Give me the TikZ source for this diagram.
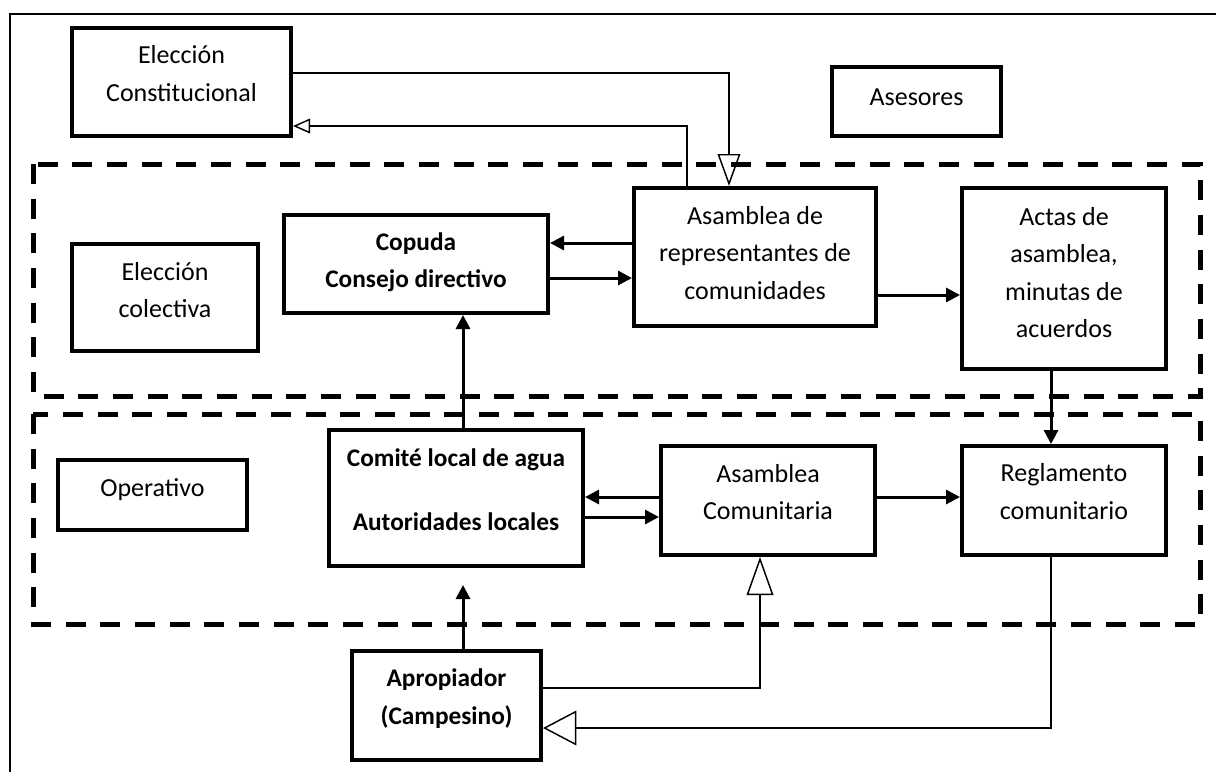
\documentclass[tikz,border=0pt]{standalone}
\usepackage{fontspec}
\setmainfont{Carlito}
\usetikzlibrary{arrows.meta,calc}
\begin{document}
\begin{tikzpicture}[x=0.75pt,y=-0.75pt,
  box/.style={draw, line width=3pt, inner sep=0pt},
  txt/.style={align=center, inner sep=0pt, font=\fontsize{19.5pt}{28pt}\selectfont},
  btxt/.style={txt, font=\fontsize{19pt}{28pt}\selectfont\bfseries},
  region/.style={draw, line width=3.75pt, dash pattern=on 15pt off 11pt},
  fa/.style={line width=2.25pt, -{Triangle[length=10.5pt,width=10.5pt]}},
]
\useasboundingbox (0,0) rectangle (1216,772);
% outer frame (only left and top visible)
\draw[line width=1.5pt] (10,772) -- (10,14) -- (1216,14);
% dashed regions
\draw[region] (33,164) rectangle (1200,396);
\draw[region] (33,414) rectangle (1200,624);

% helper coordinates
\coordinate (y73) at (0,73);
\coordinate (y126) at (0,126);
\coordinate (y243) at (0,243);
\coordinate (y278) at (0,278);
\coordinate (y295) at (0,295);
\coordinate (y497) at (0,497);
\coordinate (y517) at (0,517);
\coordinate (y688) at (0,688);
\coordinate (y728) at (0,728);
\coordinate (x729) at (729,0);
\coordinate (x687) at (687,0);
\coordinate (x1051) at (1051,0);
\coordinate (xv) at (463,0);
\coordinate (x760) at (760,0);

% boxes
\node[box, minimum width=219*0.75pt, minimum height=108*0.75pt,
  label={[txt, yshift=8.5*0.75pt]center:Elección\\Constitucional}] (ec) at (181.5,82) {};
\node[box, minimum width=169*0.75pt, minimum height=69*0.75pt,
  label={[txt, yshift=4*0.75pt]center:Asesores}] (as) at (916.5,101.5) {};
\node[box, minimum width=186*0.75pt, minimum height=107*0.75pt,
  label={[txt, yshift=7.5*0.75pt]center:Elección\\colectiva}] (ecol) at (165,297.5) {};
\node[box, minimum width=264*0.75pt, minimum height=98*0.75pt,
  label={[btxt, yshift=2*0.75pt]center:Copuda\\Consejo directivo}] (cop) at (416,264) {};
\node[box, minimum width=242*0.75pt, minimum height=138*0.75pt,
  label={[txt, yshift=4*0.75pt]center:Asamblea de\\representantes de\\comunidades}] (arep) at (755,257) {};
\node[box, minimum width=204*0.75pt, minimum height=181*0.75pt,
  label={[txt, yshift=6*0.75pt]center:Actas de\\asamblea,\\minutas de\\acuerdos}] (act) at (1064,278.5) {};
\node[box, minimum width=189*0.75pt, minimum height=70*0.75pt,
  label={[txt, yshift=5*0.75pt]center:Operativo}] (op) at (152.5,495) {};
\node[box, minimum width=254*0.75pt, minimum height=136*0.75pt,
  label={[btxt, yshift=8.5*0.75pt]center:Comité local de agua\\[20pt]Autoridades locales}] (com) at (456,498) {};
\node[box, minimum width=214*0.75pt, minimum height=109*0.75pt,
  label={[txt, yshift=8.5*0.75pt]center:Asamblea\\Comunitaria}] (acom) at (768,500.5) {};
\node[box, minimum width=204*0.75pt, minimum height=109*0.75pt,
  label={[txt, yshift=9*0.75pt]center:Reglamento\\comunitario}] (reg) at (1064,500.5) {};
\node[box, minimum width=189*0.75pt, minimum height=109*0.75pt,
  label={[btxt, yshift=7*0.75pt]center:Apropiador\\(Campesino)}] (apr) at (446.5,705.5) {};

% connectors
\draw[line width=1.1pt, -{Triangle[open,length=24pt,width=17pt]}]
  (ec.east |- y73) -| (arep.north -| x729);
\draw[line width=1.1pt, -{Triangle[open,length=12.75pt,width=11pt]}]
  (arep.north -| x687) |- (ec.east |- y126);
\draw[fa] (arep.west |- y243) -- (cop.east |- y243);
\draw[fa] (cop.east |- y278) -- (arep.west |- y278);
\draw[fa] (arep.east |- y295) -- (act.west |- y295);
\draw[fa] (act.south -| x1051) -- (reg.north -| x1051);
\draw[fa] (com.north -| xv) -- (cop.south -| xv);
\draw[fa, shorten >=12.75pt] (apr.north -| xv) -- (com.south -| xv);
\draw[fa] (acom.west |- y497) -- (com.east |- y497);
\draw[fa] (com.east |- y517) -- (acom.west |- y517);
\draw[fa] (acom.east |- y497) -- (reg.west |- y497);
\draw[line width=1.1pt, -{Triangle[open,length=28.5pt,width=20pt]}]
  (apr.east |- y688) -| (acom.south -| x760);
\draw[line width=1.1pt, -{Triangle[open,length=25pt,width=26pt]}]
  (reg.south -| x1051) |- (apr.east |- y728);
\end{tikzpicture}
\end{document}
